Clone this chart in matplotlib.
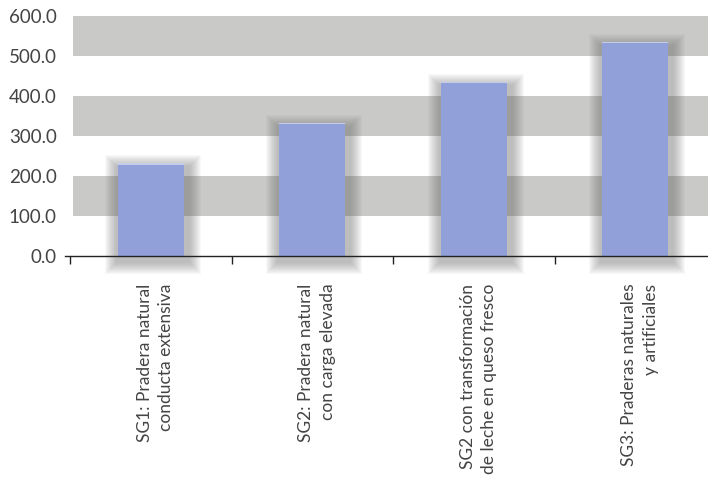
import matplotlib
matplotlib.use("Agg")
import matplotlib.pyplot as plt
from matplotlib.patches import Rectangle
from matplotlib.ticker import FixedLocator, FormatStrFormatter
import numpy as np

plt.rcParams["font.family"] = ["Lato", "DejaVu Sans"]

####################################################
# Data

categories = [
    "SG1: Pradera natural\nconducta extensiva",
    "SG2: Pradera natural\ncon carga elevada",
    "SG2 con transformación\nde leche en queso fresco",
    "SG3: Praderas naturales\ny artificiales",
]
values = [232.0, 333.0, 436.0, 536.0]
y_ticks = [0, 100, 200, 300, 400, 500, 600]
bands = [(100, 200), (300, 400), (500, 600)]

bar_color = "#91a0d8"
band_color = "#c9c9c7"
text_color = "#444444"

####################################################
# Figure layout (pixels -> figure fractions)

W, H = 708, 479
fig = plt.figure(figsize=(W / 100, H / 100), dpi=100)
# axes reach 14 px below the zero line so the shadows can spill under it
ax = fig.add_axes([65 / W, (H - 270) / H, (W - 65) / W, 254 / H])

cat_px = 161.5  # pixels per category
px_x = 1 / cat_px  # data units per pixel
px_y = 600 / 240
x_left = -0.5 - 5 / cat_px
x_right = -0.5 + (W - 70) / cat_px
y_low = -14 * px_y
ax.set_xlim(x_left, x_right)
ax.set_ylim(y_low, 600)

# grey horizontal bands
band_start = (73 - 65) / (W - 65)
for lo, hi in bands:
    ax.axhspan(lo, hi, xmin=band_start, xmax=1, color=band_color, lw=0, zorder=0)

x = np.arange(len(values))
width = 0.41

# soft drop shadows: stacked translucent rectangles growing 1 px per layer
n_layers = 12
for xi, v in zip(x, values):
    x0 = xi - width / 2 - 1 * px_x
    w0 = width + 6 * px_x
    y0 = -6 * px_y
    h0 = v - 4 * px_y - y0
    for k in range(n_layers, 0, -1):
        ax.add_patch(Rectangle(
            (x0 - k * px_x, y0 - k * px_y),
            w0 + 2 * k * px_x,
            h0 + 2 * k * px_y,
            facecolor="#6a6a6a",
            edgecolor="none",
            alpha=0.042,
            zorder=1,
            clip_on=False,
        ))

ax.bar(x, values, width=width, color=bar_color, zorder=2)
# thin light edge on top of each bar
ax.bar(x, [1.5 * px_y] * len(values), bottom=np.array(values) - 1.5 * px_y,
       width=width, color="#c4ccec", zorder=3)

ax.set_xlim(x_left, x_right)
ax.set_ylim(y_low, 600)

####################################################
# Axes styling

for side in ["left", "right", "top"]:
    ax.spines[side].set_visible(False)
ax.spines["bottom"].set_position(("data", 0))
ax.spines["bottom"].set_color("#222222")
ax.spines["bottom"].set_linewidth(1.0)
ax.spines["bottom"].set_zorder(4)

ax.set_yticks(y_ticks)
ax.yaxis.set_major_formatter(FormatStrFormatter("%.1f"))
ax.tick_params(axis="y", length=0, pad=6, labelsize=13.5, labelcolor=text_color)

ax.set_xticks(x + 0.03)
ax.set_xticklabels(categories, rotation=90, ha="center", va="top",
                   multialignment="right", fontsize=12.5, color=text_color,
                   linespacing=1.4)
ax.tick_params(axis="x", which="major", length=0, pad=20)
ax.xaxis.set_minor_locator(FixedLocator([-0.5, 0.5, 1.5, 2.5]))
ax.tick_params(axis="x", which="minor", length=6, width=1.0, color="#222222",
               direction="out")

fig.savefig("out.png", dpi=100)
